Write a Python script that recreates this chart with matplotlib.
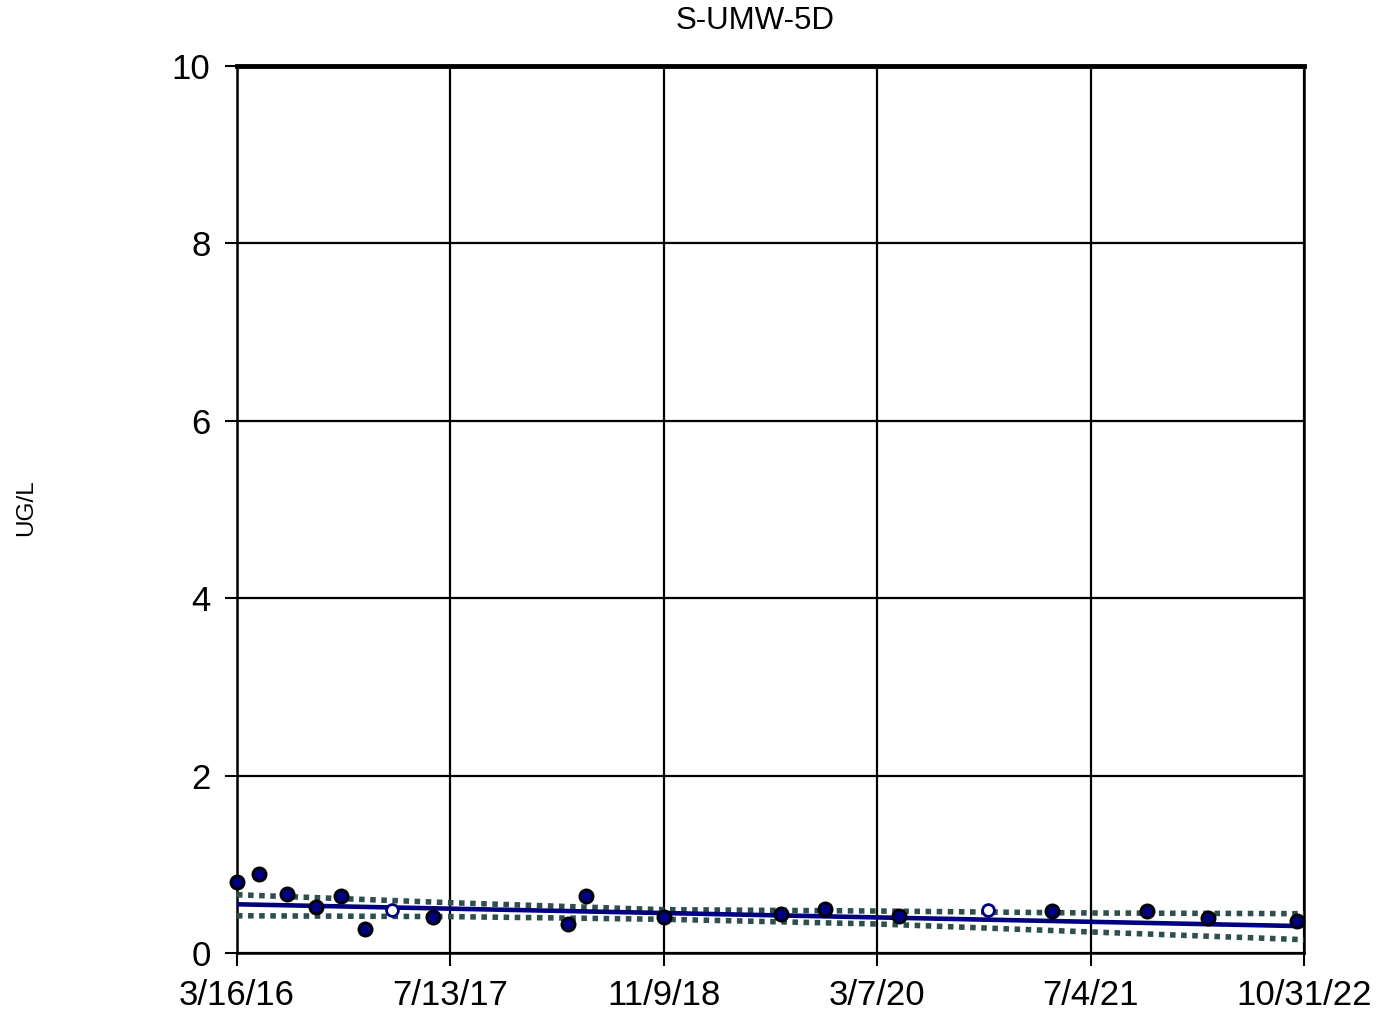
import numpy as np
import pandas as pd
import matplotlib
matplotlib.use("Agg")
import matplotlib.pyplot as plt
import matplotlib.dates as mdates

plt.rcParams['font.family'] = ['Liberation Sans', 'DejaVu Sans']

# detected results
det_dates = ["2016-03-16", "2016-05-06", "2016-07-07", "2016-09-11", "2016-11-06",
             "2016-12-31", "2017-06-04", "2018-04-06", "2018-05-16", "2018-11-10",
             "2019-08-01", "2019-11-10", "2020-04-26", "2021-04-08", "2021-11-08",
             "2022-03-28", "2022-10-14"]
det_vals = [0.80, 0.89, 0.665, 0.52, 0.64, 0.27, 0.41, 0.33, 0.64, 0.41,
            0.44, 0.50, 0.42, 0.47, 0.47, 0.39, 0.36]

# non-detects (open markers)
nd_dates = ["2017-03-03", "2020-11-14"]
nd_vals = [0.49, 0.49]

# trend line and confidence bands
trend_dates = ["2016-03-16", "2022-10-14"]
trend_vals = [0.549, 0.304]
band_dates = ["2016-03-16", "2017-07-13", "2018-11-09", "2020-03-07", "2021-07-04", "2022-10-31"]
upper_vals = [0.657, 0.567, 0.488, 0.473, 0.451, 0.443]
lower_vals = [0.42, 0.41, 0.38, 0.327, 0.237, 0.150]

tick_dates = ["2016-03-16", "2017-07-13", "2018-11-09", "2020-03-07", "2021-07-04", "2022-10-31"]
tick_labels = ["3/16/16", "7/13/17", "11/9/18", "3/7/20", "7/4/21", "10/31/22"]

fig = plt.figure(figsize=(13.76, 10.15), dpi=100)
ax = fig.add_axes([0.1722, 0.0611, 0.7755, 0.8739])

bd = pd.to_datetime(band_dates)
ax.plot(bd, upper_vals, color='#2F4F4F', linestyle=(0, (1, 1)), linewidth=4, zorder=3)
ax.plot(bd, lower_vals, color='#2F4F4F', linestyle=(0, (1, 1)), linewidth=4, zorder=3)
ax.plot(pd.to_datetime(trend_dates), trend_vals, color='#000080', linewidth=3.3, zorder=4)

ax.plot(pd.to_datetime(det_dates), det_vals, 'o', markersize=9.5, markerfacecolor='#000080',
        markeredgecolor='black', markeredgewidth=2, zorder=5, clip_on=False)
ax.plot(pd.to_datetime(nd_dates), nd_vals, 'o', markersize=8.5, markerfacecolor='white',
        markeredgecolor='#000080', markeredgewidth=2, zorder=5)

td = pd.to_datetime(tick_dates)
ax.set_xlim(td[0], td[-1])
ax.set_ylim(0, 10)
ax.set_xticks(td)
ax.set_xticklabels(tick_labels)
ax.set_yticks([0, 2, 4, 6, 8, 10])
ax.tick_params(axis='both', labelsize=25, length=9, width=1.5, color='black')
ax.tick_params(axis='x', pad=10)
ax.tick_params(axis='y', pad=10)
ax.grid(True, color='black', linewidth=1.6)
ax.set_axisbelow(True)

for s in ['left', 'bottom', 'right']:
    ax.spines[s].set_linewidth(1.8)
ax.spines['top'].set_linewidth(3.5)

fig.text(0.5487, 0.979, "S-UMW-5D", fontsize=22.5, va='center', ha='center')
fig.text(0.019, 0.5, "UG/L", rotation=90, fontsize=17.5, va='center', ha='center')

fig.savefig("out.png", dpi=100)
